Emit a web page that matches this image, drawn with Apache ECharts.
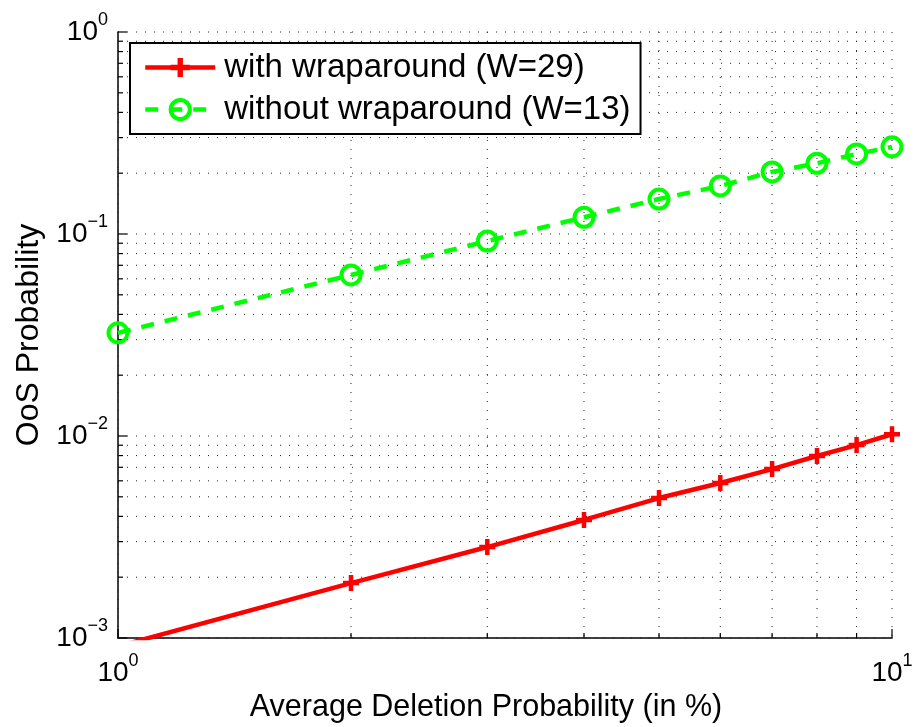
<!DOCTYPE html>
<html>
<head>
<meta charset="utf-8">
<script src="https://cdn.jsdelivr.net/npm/echarts@6/dist/echarts.min.js"></script>
<style>
  html, body { margin: 0; padding: 0; background: #fff; }
  #chart { width: 915px; height: 727px; }
</style>
</head>
<body>
<div id="chart"></div>
<script>
// deletion probability in %
const deletionProb = [1, 2, 3, 4, 5, 6, 7, 8, 9, 10]
// OoS probability
const withWrap = [0.00091, 0.00187, 0.00282, 0.00384, 0.00493, 0.00585, 0.00686, 0.00796, 0.00902, 0.0102]
const withoutWrap = [0.0324, 0.0627, 0.0923, 0.121, 0.149, 0.173, 0.203, 0.224, 0.249, 0.270]
const seriesNames = ['with wraparound (W=29)', 'without wraparound (W=13)']

const X_MIN = 1
const X_MAX = 10
const Y_MIN = 0.001
const Y_MAX = 1
const FONT = 'Liberation Sans, Arial, Helvetica, sans-serif'

// grid positions for the log axes (1..9 in every decade)
const yGridVals = []
for (let d = Y_MIN; d < Y_MAX * 0.999; d *= 10) {
  for (let k = 1; k <= 9; k++) yGridVals.push(+(d * k).toPrecision(3))
}
yGridVals.push(Y_MAX)
const xGridVals = [1, 2, 3, 4, 5, 6, 7, 8, 9, 10]

function isDecade (v) {
  const e = Math.log10(v)
  return Math.abs(e - Math.round(e)) < 1e-6
}

const dotted = { stroke: '#222', lineWidth: 1, lineDash: [1, 8] }

function hGrid (params, api) {
  const cs = params.coordSys
  const y = api.coord([X_MIN, api.value(1)])[1]
  const len = isDecade(api.value(1)) ? 9 : 5
  return {
    type: 'group',
    children: [
      { type: 'line', shape: { x1: cs.x, y1: y, x2: cs.x + cs.width, y2: y }, style: dotted },
      { type: 'line', shape: { x1: cs.x, y1: y, x2: cs.x + len, y2: y }, style: { stroke: '#000', lineWidth: 1.2 } }
    ]
  }
}

function vGrid (params, api) {
  const cs = params.coordSys
  const x = api.coord([api.value(0), Y_MIN])[0]
  const len = isDecade(api.value(0)) ? 9 : 5
  const bottom = cs.y + cs.height
  return {
    type: 'group',
    children: [
      { type: 'line', shape: { x1: x, y1: cs.y, x2: x, y2: bottom }, style: dotted },
      { type: 'line', shape: { x1: x, y1: bottom, x2: x, y2: bottom - len }, style: { stroke: '#000', lineWidth: 1.2 } }
    ]
  }
}

function powLabel (value) {
  const e = Math.round(Math.log10(value))
  const s = e < 0 ? '\u2212' + (-e) : String(e)
  return '{b|10}{s|' + s + '}'
}

const labelRich = {
  b: { fontSize: 28, fontFamily: FONT, color: '#000', lineHeight: 42 },
  s: { fontSize: 18, fontFamily: FONT, color: '#000', verticalAlign: 'top', lineHeight: 18 }
}

const plusPath = 'path://M3.6,0H6.4V3.6H10V6.4H6.4V10H3.6V6.4H0V3.6H3.6Z'

const chart = echarts.init(document.getElementById('chart'))
chart.setOption({
  backgroundColor: '#fff',
  animation: false,
  grid: { left: 118, right: 23, top: 32, bottom: 89, outerBoundsMode: 'none' },
  legend: {
    data: seriesNames,
    orient: 'vertical',
    left: 130,
    top: 43,
    padding: [8, 10, 8, 13],
    itemGap: 9,
    itemWidth: 70,
    itemHeight: 24,
    borderColor: '#000',
    borderWidth: 2,
    backgroundColor: '#fff',
    lineStyle: { width: 4.5 },
    itemStyle: { borderWidth: 4 },
    textStyle: { fontSize: 33, fontFamily: FONT, color: '#000', padding: [0, 0, 0, 4] }
  },
  xAxis: {
    type: 'log',
    logBase: 10,
    min: X_MIN,
    max: X_MAX,
    name: 'Average Deletion Probability (in %)',
    nameLocation: 'middle',
    nameGap: 49,
    nameTextStyle: { fontSize: 30.5, fontFamily: FONT, color: '#000', padding: [0, 38, 0, 0] },
    axisLine: { lineStyle: { color: '#000', width: 1.5 } },
    axisTick: { show: false },
    splitLine: { show: false },
    axisLabel: { formatter: powLabel, rich: labelRich, margin: 14 }
  },
  yAxis: {
    type: 'log',
    logBase: 10,
    min: Y_MIN,
    max: Y_MAX,
    name: 'OoS Probability',
    nameLocation: 'middle',
    nameGap: 72,
    nameTextStyle: { fontSize: 32, fontFamily: FONT, color: '#000' },
    axisLine: { lineStyle: { color: '#000', width: 1.5 } },
    axisTick: { show: false },
    splitLine: { show: false },
    axisLabel: { formatter: powLabel, rich: labelRich, margin: 10 }
  },
  series: [
    {
      type: 'custom',
      renderItem: hGrid,
      data: yGridVals.map(v => [X_MIN, v]),
      silent: true,
      z: 1
    },
    {
      type: 'custom',
      renderItem: vGrid,
      data: xGridVals.map(v => [v, Y_MIN]),
      silent: true,
      z: 1
    },
    {
      name: seriesNames[0],
      type: 'line',
      data: deletionProb.map((x, i) => [x, withWrap[i]]),
      symbol: plusPath,
      symbolSize: 16,
      clip: true,
      lineStyle: { color: '#ff0000', width: 4.5 },
      itemStyle: { color: '#ff0000' },
      z: 3
    },
    {
      name: seriesNames[1],
      type: 'line',
      data: deletionProb.map((x, i) => [x, withoutWrap[i]]),
      symbol: 'circle',
      symbolSize: 19,
      clip: true,
      lineStyle: { color: '#00ff00', width: 4.5, type: [13, 11] },
      itemStyle: { color: 'rgba(0,0,0,0)', borderColor: '#00ff00', borderWidth: 4 },
      z: 3
    }
  ]
})
</script>
</body>
</html>
